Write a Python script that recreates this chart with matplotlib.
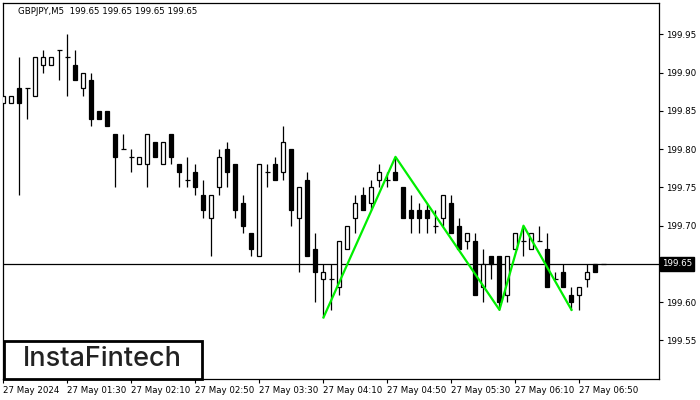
import matplotlib
matplotlib.use("Agg")
import matplotlib.pyplot as plt
from matplotlib.patches import Rectangle
import numpy as np

symbol_title = "GBPJPY,M5  199.65 199.65 199.65 199.65"
opens = [199.861, 199.861, 199.880, 199.880, 199.870, 199.910, 199.910, 199.930, 199.920, 199.910,
         199.880, 199.890, 199.850, 199.850, 199.820, 199.800, 199.790, 199.780, 199.780, 199.810,
         199.780, 199.820, 199.780, 199.760, 199.770, 199.740, 199.710, 199.750, 199.800, 199.780,
         199.730, 199.690, 199.660, 199.770, 199.780, 199.770, 199.800, 199.710, 199.760, 199.670,
         199.630, 199.630, 199.620, 199.670, 199.710, 199.740, 199.730, 199.760, 199.760, 199.770,
         199.750, 199.720, 199.720, 199.720, 199.700, 199.710, 199.730, 199.700, 199.680, 199.680,
         199.620, 199.660, 199.660, 199.610, 199.670, 199.680, 199.670, 199.680, 199.670, 199.630,
         199.640, 199.610, 199.610, 199.630, 199.650, 199.650]
highs = [199.870, 199.870, 199.920, 199.880, 199.920, 199.930, 199.920, 199.930, 199.950, 199.930,
         199.900, 199.900, 199.850, 199.850, 199.820, 199.820, 199.800, 199.790, 199.820, 199.810,
         199.810, 199.820, 199.780, 199.790, 199.780, 199.760, 199.740, 199.800, 199.810, 199.780,
         199.740, 199.690, 199.780, 199.780, 199.790, 199.830, 199.800, 199.750, 199.770, 199.690,
         199.650, 199.650, 199.680, 199.700, 199.740, 199.750, 199.760, 199.780, 199.770, 199.790,
         199.750, 199.740, 199.730, 199.730, 199.720, 199.740, 199.740, 199.710, 199.690, 199.690,
         199.670, 199.660, 199.660, 199.660, 199.690, 199.700, 199.690, 199.700, 199.690, 199.640,
         199.650, 199.620, 199.620, 199.650, 199.650, 199.650]
lows = [199.861, 199.861, 199.740, 199.840, 199.870, 199.900, 199.910, 199.890, 199.870, 199.890,
        199.870, 199.830, 199.840, 199.830, 199.750, 199.800, 199.770, 199.780, 199.750, 199.790,
        199.780, 199.780, 199.750, 199.750, 199.740, 199.710, 199.660, 199.740, 199.750, 199.710,
        199.690, 199.660, 199.660, 199.750, 199.760, 199.760, 199.700, 199.640, 199.660, 199.600,
        199.580, 199.590, 199.610, 199.670, 199.690, 199.720, 199.720, 199.750, 199.750, 199.760,
        199.710, 199.690, 199.690, 199.690, 199.690, 199.700, 199.690, 199.670, 199.670, 199.610,
        199.600, 199.630, 199.590, 199.600, 199.670, 199.660, 199.670, 199.680, 199.620, 199.630,
        199.620, 199.590, 199.590, 199.620, 199.640, 199.650]
closes = [199.870, 199.870, 199.860, 199.880, 199.920, 199.920, 199.920, 199.930, 199.920, 199.890,
          199.900, 199.840, 199.840, 199.830, 199.790, 199.800, 199.790, 199.790, 199.820, 199.790,
          199.810, 199.790, 199.770, 199.760, 199.750, 199.720, 199.740, 199.790, 199.770, 199.720,
          199.700, 199.670, 199.780, 199.770, 199.760, 199.810, 199.720, 199.750, 199.660, 199.640,
          199.640, 199.630, 199.680, 199.700, 199.730, 199.720, 199.750, 199.770, 199.760, 199.760,
          199.710, 199.710, 199.710, 199.710, 199.700, 199.740, 199.690, 199.670, 199.690, 199.610,
          199.650, 199.650, 199.600, 199.660, 199.690, 199.680, 199.690, 199.680, 199.620, 199.630,
          199.620, 199.600, 199.620, 199.640, 199.640, 199.650]

pattern_bars = [40, 49, 62, 65, 71]
pattern_prices = [199.58, 199.79, 199.59, 199.70, 199.59]

current_price = 199.65
y_ticks = [199.55, 199.60, 199.70, 199.75, 199.80, 199.85, 199.90, 199.95]
x_tick_bars = [0, 8, 16, 24, 32, 40, 48, 56, 64, 72]
x_tick_labels = ["27 May 2024", "27 May 01:30", "27 May 02:10", "27 May 02:50", "27 May 03:30",
                 "27 May 04:10", "27 May 04:50", "27 May 05:30", "27 May 06:10", "27 May 06:50"]

W, H = 700, 400
fig = plt.figure(figsize=(7, 4), dpi=100)
fig.patch.set_facecolor("white")
ax_l, ax_r, ax_t, ax_b = 3, 659, 2.7, 378.7
ax = fig.add_axes([ax_l / W, 1 - ax_b / H, (ax_r - ax_l) / W, (ax_b - ax_t) / H])
ax.set_xlim(-0.06, 81.94)
ax.set_ylim(199.50, 199.9915)

o = np.array(opens); h = np.array(highs); l = np.array(lows); c = np.array(closes)
x = np.arange(len(o))
bw = 0.5
ax.vlines(x, l, h, color="black", linewidth=0.9, zorder=2)
for i in range(len(o)):
    if abs(c[i] - o[i]) < 1e-9:
        ax.hlines(o[i], x[i] - bw / 2 - 0.05, x[i] + bw / 2 + 0.05, color="black", linewidth=0.9, zorder=3)
    else:
        lo, hi = min(o[i], c[i]), max(o[i], c[i])
        fc = "white" if c[i] > o[i] else "black"
        ax.add_patch(Rectangle((x[i] - bw / 2, lo), bw, hi - lo, facecolor=fc,
                               edgecolor="black", linewidth=0.9, zorder=3))

ax.axhline(current_price, color="black", linewidth=0.9, zorder=1)
ax.plot(pattern_bars, pattern_prices, color="#00ee00", linewidth=1.6, zorder=4)

for s in ax.spines.values():
    s.set_linewidth(0.9)
    s.set_color("black")

ax.yaxis.tick_right()
ax.set_yticks(y_ticks)
ax.set_yticklabels([f"{v:.2f}" for v in y_ticks], fontsize=6.3)
ax.tick_params(axis="y", direction="out", length=3, width=0.8, pad=2)
ax.set_xticks(x_tick_bars)
ax.set_xticklabels(x_tick_labels, fontsize=6.2, ha="left")
ax.tick_params(axis="x", direction="out", length=3, width=0.8, pad=2)

ax.text(1.0 + 3 / 656, current_price, f"{current_price:.2f}", transform=ax.get_yaxis_transform(),
        fontsize=6.3, color="white", va="center", ha="left",
        bbox=dict(boxstyle="square,pad=0.25", facecolor="black", edgecolor="black"))

fig.text(18 / W, 1 - 11 / H, symbol_title, fontsize=6.2, va="center", ha="left")

# logo
fig.patches.append(Rectangle((3.5 / W, 1 - 378.5 / H), 198 / W, 37.5 / H, transform=fig.transFigure,
                             facecolor="white", edgecolor="black", linewidth=2.0, zorder=5))
fig.text(102 / W, 1 - 359 / H, "InstaFintech", fontsize=19.5, family="Inter", weight="medium",
         color="#222222", va="center", ha="center", zorder=6)

fig.savefig("out.png", dpi=100)
